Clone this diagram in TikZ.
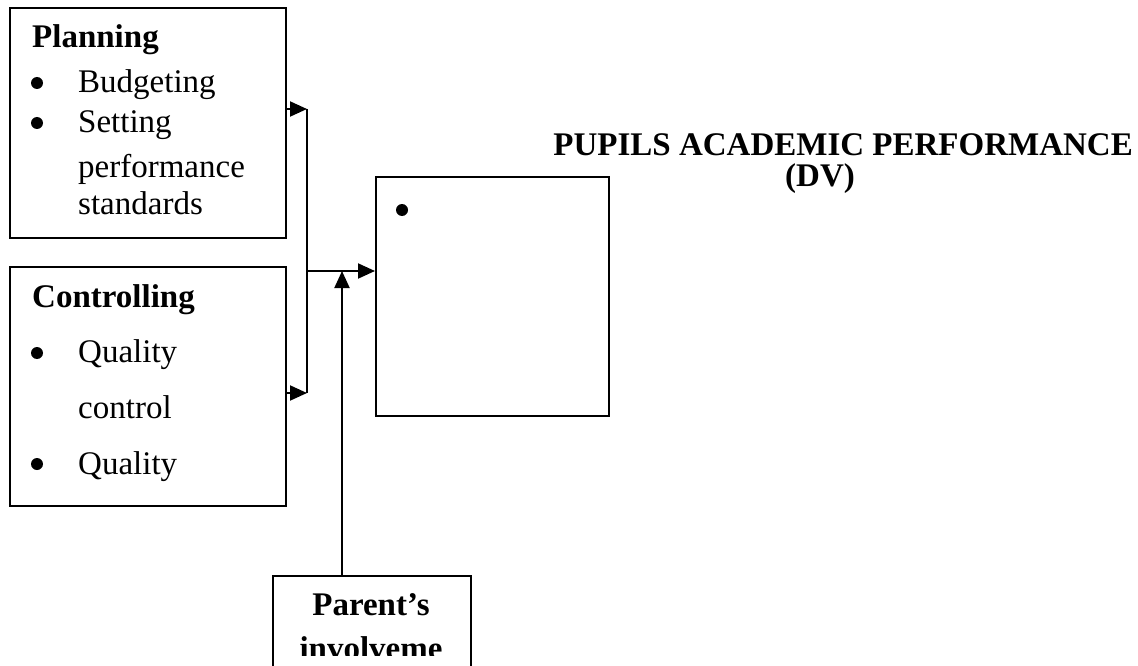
\documentclass[tikz,border=0pt]{standalone}
\usepackage{fontspec}
\setmainfont{Liberation Serif}
\usetikzlibrary{arrows.meta}

\tikzset{
  box/.style={draw, line width=2pt, inner sep=0pt, anchor=north west},
  txt/.style={anchor=base west, inner sep=0pt, font=\fontsize{33}{40}\selectfont},
  head/.style={txt, font=\fontsize{33}{40}\selectfont\bfseries},
  dot/.style={circle, fill, inner sep=0pt, minimum size=12pt},
  link/.style={line width=2pt, -{Triangle[length=17pt,width=15pt]}},
}

\begin{document}
\begin{tikzpicture}[x=1pt,y=-1pt]
\useasboundingbox (0,0) rectangle (1138,666);

% boxes
\node[box, minimum width=276pt, minimum height=230pt] (plan) at (9,7) {};
\node[box, minimum width=276pt, minimum height=239pt] (ctrl) at (9,266) {};
\node[box, minimum width=233pt, minimum height=239pt] (dv) at (375,176) {};

% planning
\node[head] (plantitle) at (32,48) {Planning};
\node[dot] (pb1) at (37,83) {};
\node[txt] (pt1) at (78,93) {Budgeting};
\node[dot] (pb2) at (37,123) {};
\node[txt] (pt2) at (78,133) {Setting};
\node[txt] (pt3) at (78,177) {performance};
\node[txt] (pt4) at (78,214) {standards};

% controlling
\node[head] (ctrltitle) at (32,307) {Controlling};
\node[dot] (cb1) at (37,353) {};
\node[txt] (ct1) at (78,362) {Quality};
\node[txt] (ct2) at (78,418) {control};
\node[dot] (cb2) at (37,464) {};
\node[txt] (ct3) at (78,474) {Quality};

% dependent variable
\node[dot] (db1) at (402,210) {};
\node[head, anchor=base east] (dvtitle) at (1133,156) {PUPILS ACADEMIC PERFORMANCE};
\node[head, anchor=base] (dvtag) at (820,186) {(DV)};

% parent's involvement
\begin{scope}
\clip (272,575) rectangle (470,655);
\node[head, anchor=base] (partop) at (371,615) {Parent’s};
\node[head, anchor=base] (parbot) at (371,659) {involveme};
\end{scope}
\node[box, minimum width=198pt, minimum height=91pt] (par) at (272,575) {};

% connectors
\coordinate (j1) at (307,109);
\coordinate (j2) at (307,393);
\coordinate (jm) at (307,271);
\coordinate (pv) at (342,271);
\draw[line width=2pt] (j1) -- (j2);
\draw[link] (plan.east |- j1) -- (j1);
\draw[link] (ctrl.east |- j2) -- (j2);
\draw[link] (jm) -- (dv.west |- jm);
\draw[link] (par.north -| pv) -- (pv);
\end{tikzpicture}
\end{document}
